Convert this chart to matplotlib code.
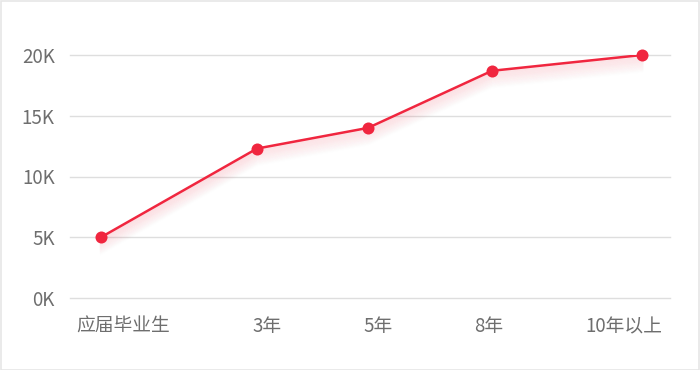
import matplotlib
matplotlib.use("Agg")
import matplotlib.pyplot as plt
import matplotlib.transforms as mtransforms
from matplotlib.patches import Rectangle

plt.rcParams['font.family'] = ['Noto Sans CJK SC', 'DejaVu Sans']

# data
categories = ['应届毕业生', '3年', '5年', '8年', '10年以上']
x_values = [31, 187, 298, 422, 572]          # horizontal position of each point on the axis
label_pos = [53, 197, 308, 419, 554]         # tick label positions
salary = [5000, 12300, 14000, 18700, 20000]
y_ticks = [0, 5000, 10000, 15000, 20000]
y_labels = ['0K', '5K', '10K', '15K', '20K']

fig = plt.figure(figsize=(7, 3.7), dpi=100)
fig.patches.append(Rectangle((0.5/700, 0.5/370), 1 - 1.5/700, 1 - 1.5/370,
                             transform=fig.transFigure, fill=False,
                             edgecolor='#e6e6e6', linewidth=1.2))
ax = fig.add_axes([70/700, (370-298)/370, 600/700, (298-55)/370])

red = '#f0263f'
# soft shadow under the line
for i in range(1, 16):
    off = mtransforms.offset_copy(ax.transData, fig=fig, x=0, y=-i*0.8, units='points')
    ax.plot(x_values, salary, color=red, linewidth=2.0, alpha=0.06*(1 - i/16),
            transform=off, zorder=2)
ax.plot(x_values, salary, color=red, linewidth=1.8, zorder=3)
ax.scatter(x_values, salary, s=75, color=red, zorder=4, clip_on=False, linewidths=0)

ax.set_xlim(0, 600)
ax.set_ylim(0, 20000)
ax.set_yticks(y_ticks)
ax.set_yticklabels(y_labels)
ax.set_xticks(label_pos)
ax.set_xticklabels(categories)
ax.grid(axis='y', color='#dedede', linewidth=1)
for gl in ax.get_ygridlines():
    gl.set_clip_on(False)
ax.set_axisbelow(True)
for s in ax.spines.values():
    s.set_visible(False)
ax.tick_params(axis='both', length=0, labelsize=13.5, labelcolor='#6e6e6e')
ax.tick_params(axis='y', pad=11)
ax.tick_params(axis='x', pad=13)
for t in ax.get_xticklabels() + ax.get_yticklabels():
    t.set_fontweight('light')

fig.savefig('out.png', dpi=100)
